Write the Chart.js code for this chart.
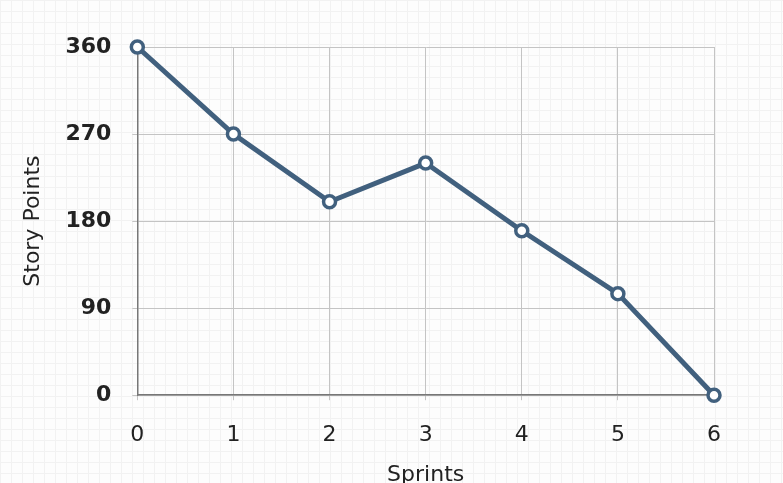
<!DOCTYPE html>
<html>
<head>
<meta charset="utf-8">
<script src="https://cdn.jsdelivr.net/npm/chart.js@4.4.1/dist/chart.umd.min.js"></script>
<style>
  html, body { margin: 0; padding: 0; overflow: hidden; }
  body {
    width: 783px; height: 483px;
    background-color: #fdfdfd;
    background-image:
      linear-gradient(to right, #f2f2f2 1px, transparent 1px),
      linear-gradient(to bottom, #f2f2f2 1px, transparent 1px);
    background-size: 11px 11px;
  }
  #wrap { width: 783px; height: 490px; position: relative; }
</style>
</head>
<body>
<div id="wrap"><canvas id="myChart"></canvas></div>
<script>
// Sprint numbers and remaining story points
var sprints = ['0', '1', '2', '3', '4', '5', '6'];
var storyPoints = [360, 270, 200, 240, 170, 105, 0];
var yTicks = [0, 90, 180, 270, 360];

var lineColor = '#41607e';
var font = 'DejaVu Sans';

const ctx = document.getElementById('myChart');
var myChart = new Chart(ctx, {
  type: 'line',
  data: {
    labels: sprints,
    datasets: [{
      label: 'Story Points',
      data: storyPoints,
      borderColor: lineColor,
      borderWidth: 5,
      pointRadius: 6,
      pointBorderWidth: 3.5,
      pointBackgroundColor: '#ffffff',
      pointBorderColor: lineColor,
      tension: 0,
      clip: false,
    }]
  },
  options: {
    maintainAspectRatio: false,
    animation: false,
    layout: {
      padding: { top: 47, right: 69, left: 20, bottom: 2 }
    },
    scales: {
      x: {
        grid: { color: '#c4c4c4', tickLength: 5 },
        border: { color: '#777777', width: 1.5 },
        ticks: {
          color: '#222',
          padding: 22,
          font: { family: font, size: 22 },
        },
        title: {
          text: 'Sprints',
          display: true,
          color: '#222',
          // tick padding is counted twice by the layout, pull the title back up
          padding: { top: -9, bottom: 0 },
          font: { family: font, size: 22 },
        }
      },
      y: {
        min: 0,
        max: 360,
        afterBuildTicks: (axis) => { axis.ticks = yTicks.map(v => ({ value: v })); },
        grid: { color: '#c4c4c4', tickLength: 5 },
        border: { color: '#777777', width: 1.5 },
        ticks: {
          color: '#222',
          padding: 21,
          font: { family: font, size: 22, weight: 'bold' },
        },
        title: {
          text: 'Story Points',
          display: true,
          color: '#222',
          padding: { top: 0, bottom: -2 },
          font: { family: font, size: 22 },
        }
      }
    },
    plugins: {
      legend: { display: false },
      tooltip: { enabled: false }
    }
  }
});
</script>
</body>
</html>
